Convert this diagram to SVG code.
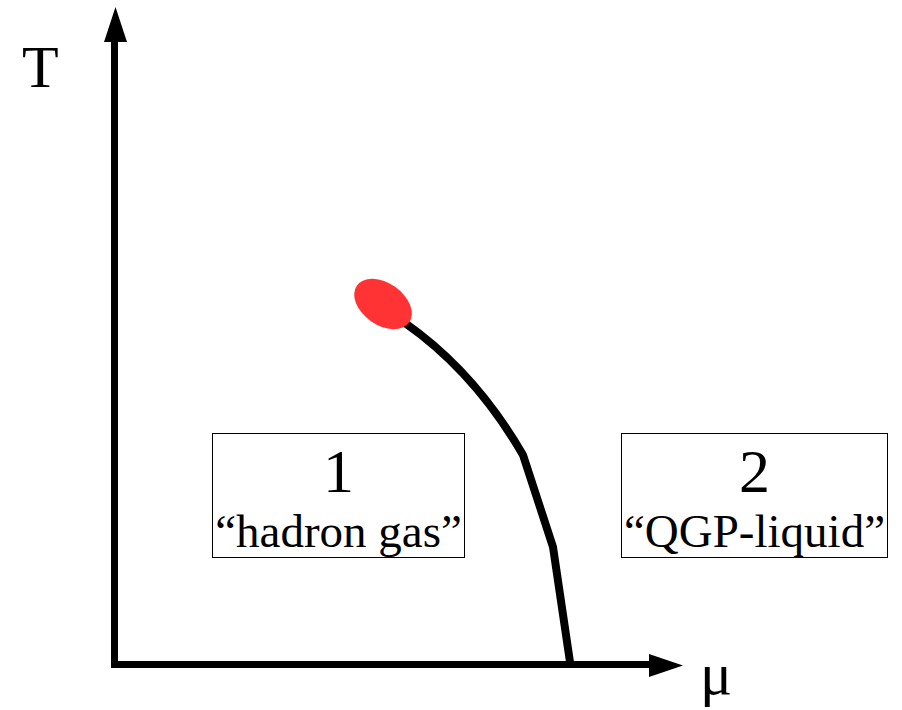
<svg xmlns="http://www.w3.org/2000/svg" width="902" height="710" viewBox="0 0 902 710">
<style>
.box{fill:#fff;stroke:#000;stroke-width:1}
.ax{stroke:#000;stroke-width:7;fill:none}
text{font-family:"Liberation Serif","Times New Roman",serif;fill:#000}
</style>
<rect width="902" height="710" fill="#fff"/>
<g id="axes">
<path class="ax" d="M114.5,40 V664.5 H652"/>
<polygon points="115.5,7 104,42 127,42"/>
<polygon points="683,665.5 649,654 649,677"/>
<text x="22" y="87" font-size="60">T</text>
<text x="700" y="694" font-size="60">μ</text>
</g>
<g id="connectors">
<path d="M405,323 Q475,372 523,455 L553,547 L570,662" fill="none" stroke="#000" stroke-width="8" stroke-linejoin="round"/>
</g>
<g id="critical-point">
<ellipse cx="383" cy="304" rx="32" ry="21" transform="rotate(35 383 304)" fill="#ff3333"/>
</g>
<g id="phase1">
<rect class="box" x="212.5" y="433.5" width="252" height="124"/>
<text x="338.5" y="492" font-size="62" text-anchor="middle">1</text>
<text x="338.5" y="547" font-size="47" text-anchor="middle">“hadron gas”</text>
</g>
<g id="phase2">
<rect class="box" x="621.5" y="433.5" width="266" height="124"/>
<text x="754.5" y="492" font-size="62" text-anchor="middle">2</text>
<text x="754.5" y="547" font-size="47" text-anchor="middle">“QGP-liquid”</text>
</g>
</svg>
